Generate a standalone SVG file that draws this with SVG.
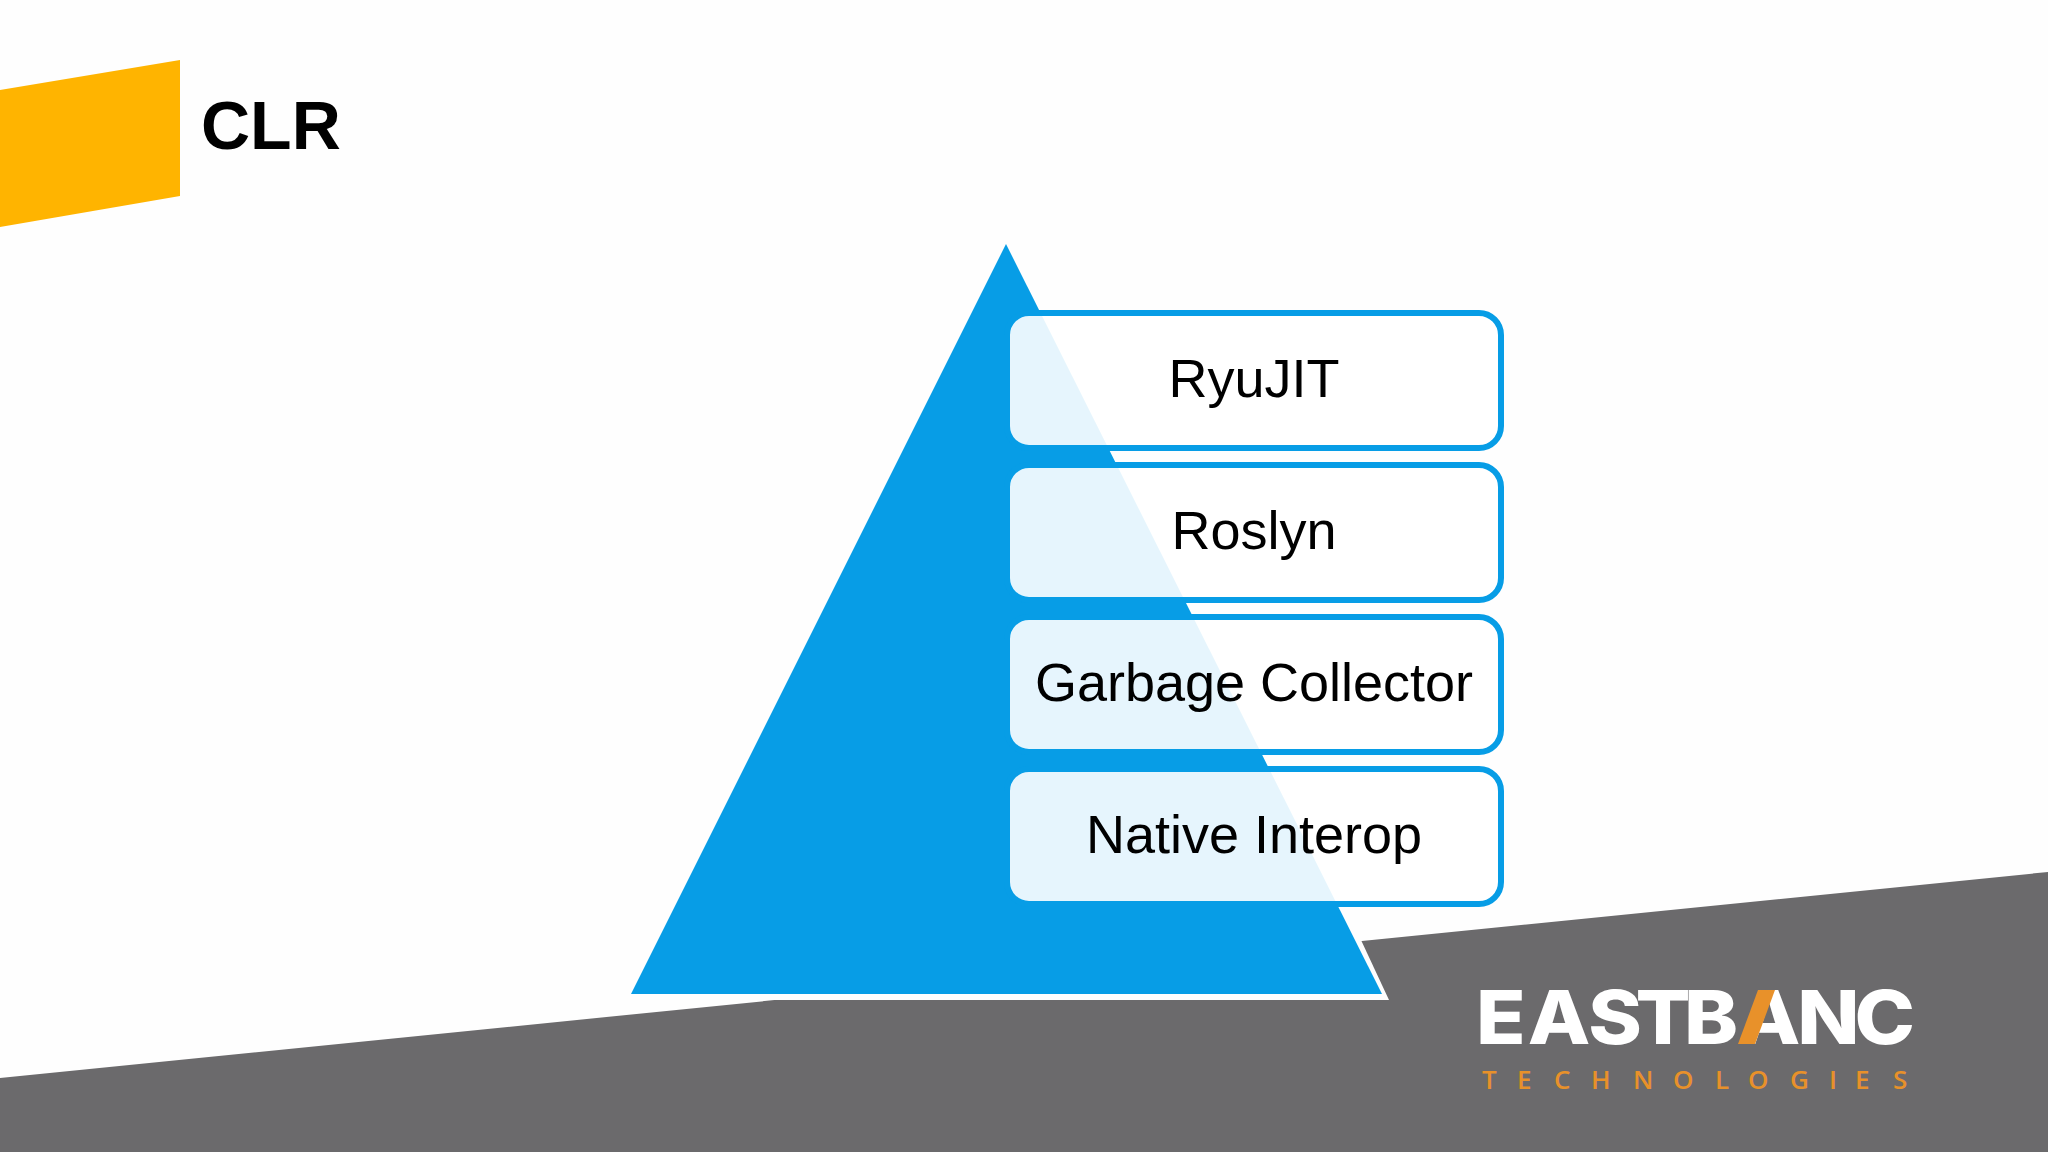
<svg xmlns="http://www.w3.org/2000/svg" width="2048" height="1152" viewBox="0 0 2048 1152">
<style>
.box{fill:#fff;fill-opacity:.9;stroke:#079de6;stroke-width:6}
.lbl{font-family:"Liberation Sans",Arial,sans-serif;font-size:54px;fill:#000;text-anchor:middle}
</style>
<rect width="2048" height="1152" fill="#fefefe"/>
<polygon id="band" points="0,1078 2048,872 2048,1152 0,1152" fill="#6b6a6c"/>
<polygon id="accent" points="0,90 180,60 180,196 0,227" fill="#ffb400"/>
<text id="title" x="201" y="149" font-family="'Liberation Sans',Arial,sans-serif" font-weight="700" font-size="68" fill="#000">CLR</text>
<g id="pyramid">
<polygon points="1037,246 1389,1000 631,1000 631,994" fill="#fefefe"/>
<polygon points="1006,244 1382,994 631,994" fill="#079de6"/>
</g>
<g id="node-ryujit"><rect class="box" x="1007" y="313" width="494" height="135" rx="22"/><text class="lbl" x="1254" y="397">RyuJIT</text></g>
<g id="node-roslyn"><rect class="box" x="1007" y="465" width="494" height="135" rx="22"/><text class="lbl" x="1254" y="549">Roslyn</text></g>
<g id="node-gc"><rect class="box" x="1007" y="617" width="494" height="135" rx="22"/><text class="lbl" x="1254" y="701">Garbage Collector</text></g>
<g id="node-interop"><rect class="box" x="1007" y="769" width="494" height="135" rx="22"/><text class="lbl" x="1254" y="853">Native Interop</text></g>
<g id="connectors"/>
<g id="logo">
<text transform="translate(1476,1044) scale(1.1,1)" font-family="Inter,'Liberation Sans',sans-serif" font-weight="800" font-size="74" fill="#fff" y="0" x="0 47 102 145 189 238 292 344">EASTBANC</text>
<polygon points="1758,990 1775,990 1755,1044 1738,1044" fill="#e8912a"/>
<text y="1089" font-family="'Open Sans','Liberation Sans',sans-serif" font-weight="600" font-size="26" fill="#e8912a" x="1482 1517 1554 1591 1633 1673 1715 1748 1790 1829 1855 1893">TECHNOLOGIES</text>
</g>
</svg>
